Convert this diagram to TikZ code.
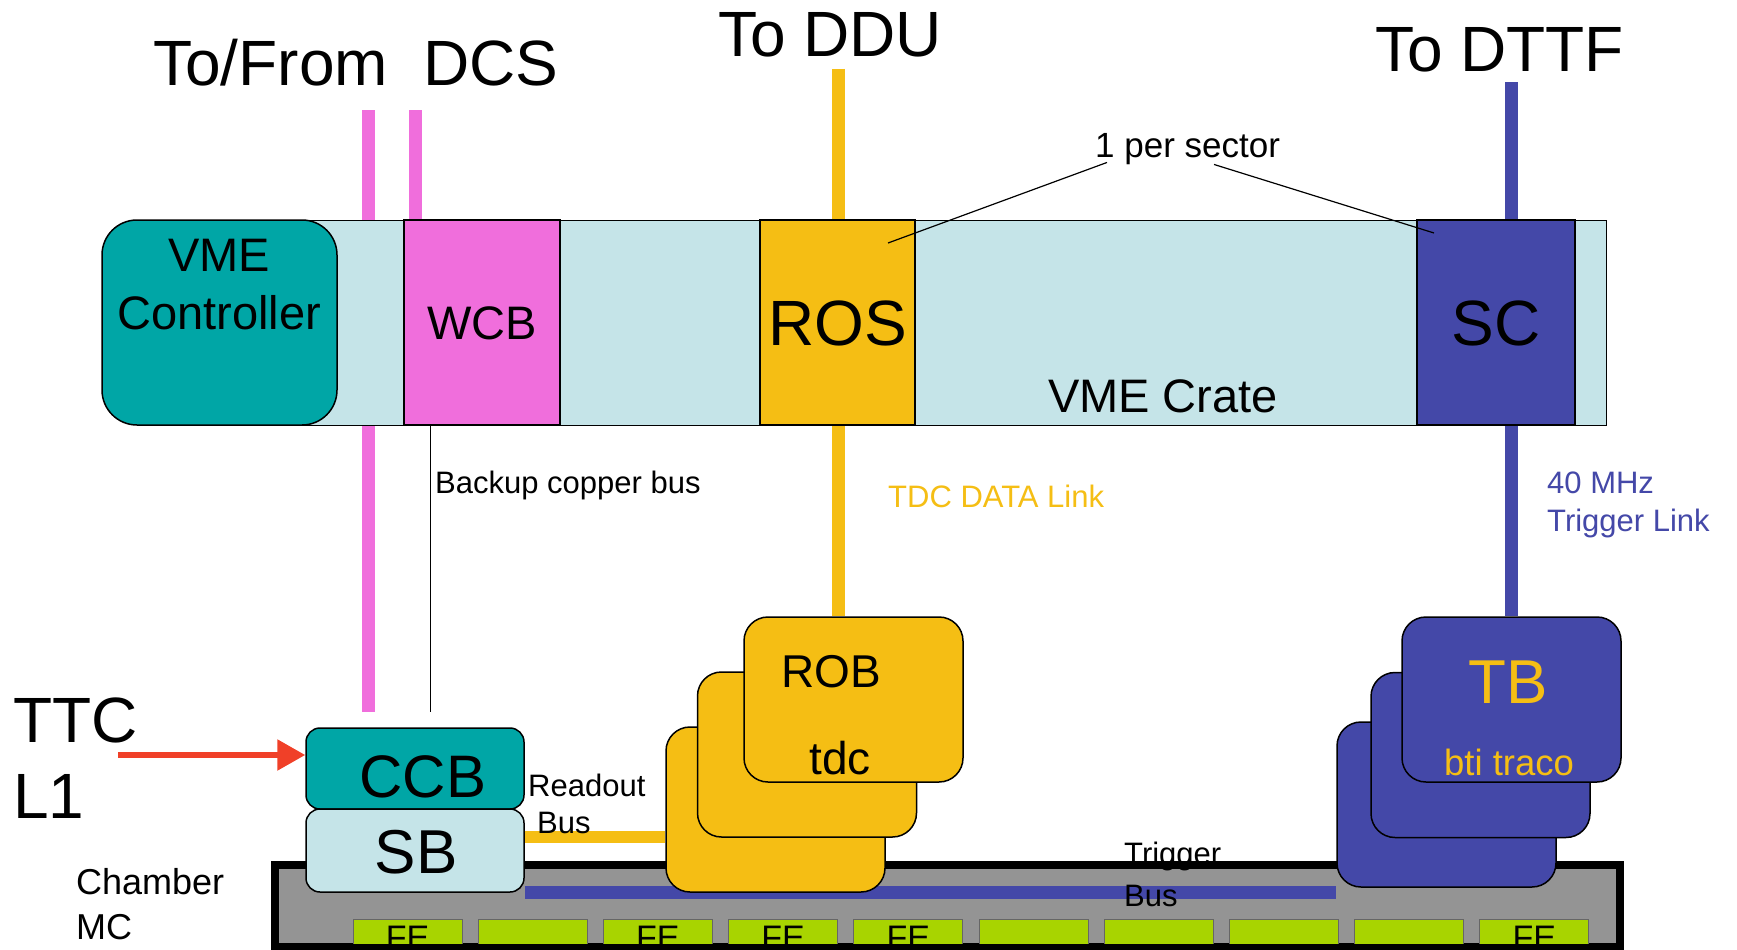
\documentclass[tikz,border=0pt]{standalone}
\usepackage{fontspec}
\setmainfont{Liberation Sans}
\usetikzlibrary{calc,arrows.meta,backgrounds}
\definecolor{cratebg}{RGB}{197,228,232}
\definecolor{vmeteal}{RGB}{0,166,166}
\definecolor{wcbpink}{RGB}{240,110,220}
\definecolor{rosorange}{RGB}{245,190,20}
\definecolor{scblue}{RGB}{68,72,168}
\definecolor{felime}{RGB}{168,212,0}
\definecolor{chambergray}{RGB}{148,148,148}
\definecolor{ttcred}{RGB}{240,64,40}
\newcommand{\fs}[2]{\fontsize{#1}{#2}\selectfont}
\tikzset{slot/.style={draw, line width=1.2pt, minimum height=205pt, inner sep=0pt, text depth=0pt},
	board/.style={draw, line width=1.5pt, rounded corners=24pt, minimum width=219pt, minimum height=165pt},
	card/.style={draw, line width=1.5pt, rounded corners=14pt, minimum width=218pt, inner sep=0pt},
	febox/.style={draw=black!60, line width=0.8pt, fill=felime, minimum width=109pt, minimum height=36pt, inner sep=0pt, text height=24.3pt, text depth=0pt, font=\fs{34}{40}},
	txt/.style={inner sep=0pt, anchor=base},
	lines/.style={inner sep=0pt, anchor=north west, align=left},
	bus/.style={line width=13pt}}

\begin{document}
\begin{tikzpicture}[x=1pt, y=-1pt]
	\useasboundingbox (0,0) rectangle (1737,950);

	\node[slot, fill=cratebg, line width=1pt, minimum width=1317pt] (crate) at (947.5,322.5) {};
	\node[slot, fill=vmeteal, rounded corners=35pt, line width=1.5pt, minimum width=235pt] (ctrl) at (219.5,322.5) {};
	\node[slot, fill=wcbpink, minimum width=156pt, text height=33.7pt, font=\fs{47}{56}] (wcb) at (482,322.5) {WCB};
	\node[slot, fill=rosorange, minimum width=155pt, text height=45.8pt, font=\fs{64}{76}] (ros) at (837.5,322.5) {ROS};
	\node[slot, fill=scblue, minimum width=158pt, text height=45.8pt, font=\fs{64}{76}] (sc) at (1496,322.5) {SC};
	\node[inner sep=0pt, anchor=north, align=center, font=\fs{47}{58}] (ctrltxt) at (219,239) {VME\\Controller};
	\node[txt, font=\fs{47}{56}] (cratetxt) at (1163,412) {VME Crate};

	\node[txt, anchor=base west, font=\fs{64}{76}] (dcs) at (153,85) {To/From\ \ DCS};
	\node[txt, anchor=base west, font=\fs{64}{76}] (ddu) at (718,57) {To DDU};
	\node[txt, anchor=base west, font=\fs{64}{76}] (dttf) at (1375,71) {To DTTF};
	\node[txt, anchor=base west, font=\fs{35}{42}] (sector) at (1095,157) {1 per sector};
	\coordinate (inros) at (888,243);
	\coordinate (insc) at (1434,233);
	\path[draw, line width=1.2pt]
		($(sector.south west)+(12,-2)$) -- (inros)
		($(sector.south west)+(119,0)$) -- (insc);

	\node[draw, line width=8pt, fill=chambergray, minimum width=1345pt, minimum height=82pt] (chamber) at (947.5,906) {};
	\begin{scope}
		\clip (279,869) rectangle (1616,943);
		\foreach \i/\t in {0/FE,1/,2/FE,3/FE,4/FE,5/,6/,7/,8/,9/FE}
			\node[febox] (fe\i) at (407.5+125.2*\i,937) {\t};
	\end{scope}

	\node[card, fill=vmeteal, minimum height=81pt] (ccb) at (415,768.5) {};
	\node[card, fill=cratebg, minimum height=83pt] (sb) at (415,850.5) {};
	\node[board, fill=scblue] (tb3) at (1446.5,804.5) {};
	\node[board, fill=scblue] (tb2) at (1480.5,755) {};
	\node[board, fill=scblue] (tb1) at (1511.5,699.5) {};
	\coordinate (trigy) at (0,892.5);
	\draw[bus, scblue] (sb.east |- trigy) -- (tb3.west |- trigy);
	\node[board, fill=rosorange] (rob3) at (775.5,809.5) {};
	\node[board, fill=rosorange] (rob2) at (807,754.5) {};
	\node[board, fill=rosorange] (rob1) at (853.5,699.5) {};
	\coordinate (ready) at (0,837);
	\draw[line width=12pt, rosorange] (sb.east |- ready) -- (rob3.west |- ready);

	\node[txt, font=\fs{60}{72}] (ccbtxt) at (423,797) {CCB};
	\node[txt, font=\fs{62}{74}] (sbtxt) at (416,873) {SB};
	\node[txt, font=\fs{46}{56}] (robtxt) at (831,687) {ROB};
	\node[txt, font=\fs{46}{56}] (tdctxt) at (840,774) {tdc};
	\node[txt, font=\fs{62}{74}, text=rosorange] (tbtxt) at (1508,703) {TB};
	\node[txt, font=\fs{36.5}{44}, text=rosorange] (btitxt) at (1509,775) {bti traco};

	\node[txt, anchor=base west, font=\fs{31}{38}] (backup) at (435,493) {Backup copper bus};
	\node[txt, anchor=base west, font=\fs{31}{38}, text=rosorange] (tdclink) at (888,507) {TDC DATA Link};
	\node[lines, font=\fs{31}{38}, text=scblue] (triglink) at (1547,472) {40 MHz\\Trigger Link};
	\node[lines, font=\fs{31}{37}] (readout) at (528,774) {Readout\\\hspace*{9pt}Bus};
	\node[lines, font=\fs{31}{42}] (trigbus) at (1124,842) {Trigger\\Bus};
	\node[lines, font=\fs{36}{45}] (chambertxt) at (76,868) {Chamber\\MC};
	\node[lines, font=\fs{64}{76}] (ttc) at (13,698) {TTC\\L1};

	\coordinate (ttcin) at (118,755);
	\draw[line width=5.5pt, ttcred, -{Triangle[length=28pt,width=30pt]}] (ttcin) -- (ttcin -| ccb.west);

	\begin{scope}[on background layer]
		\fill[white] (0,0) rectangle (1737,950);
		\coordinate (dcsA) at (368.5,110);
		\coordinate (dcsB) at (415.5,110);
		\coordinate (dduA) at (838.5,69);
		\coordinate (dttfA) at (1511.5,82);
		\coordinate (bkA) at (430.5,425);
		\draw[bus, wcbpink, shorten >=15pt] (dcsA) -- (dcsA |- ccb.north);
		\draw[bus, wcbpink] (dcsB) -- (dcsB |- wcb.north);
		\draw[bus, rosorange] (dduA) -- (dduA |- rob1.north);
		\draw[bus, scblue] (dttfA) -- (dttfA |- tb1.north);
		\draw[line width=1.2pt, shorten >=15pt] (bkA) -- (bkA |- ccb.north);
	\end{scope}
\end{tikzpicture}
\end{document}
